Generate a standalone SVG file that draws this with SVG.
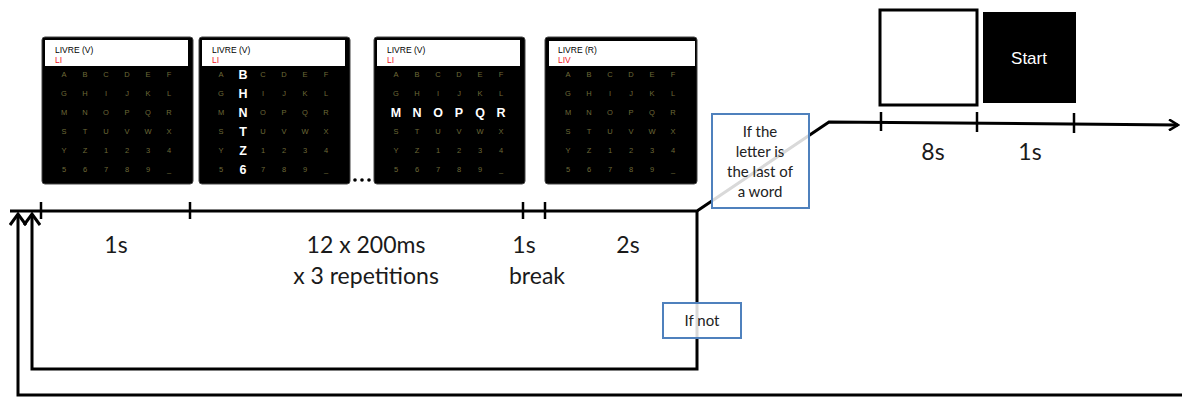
<svg xmlns="http://www.w3.org/2000/svg" width="1182" height="398" viewBox="0 0 1182 398">
<style>
.panel{fill:#000;stroke:#444;stroke-width:1}
.hdr{fill:#fff}
.ht{font-family:"Liberation Sans",Arial,sans-serif;font-size:8.5px;fill:#000}
.hr{font-family:"Liberation Sans",Arial,sans-serif;font-size:8.5px;fill:#f0141e}
.g{font-family:"Liberation Sans",Arial,sans-serif;font-size:7.5px;fill:#6e6a38;text-anchor:middle}
.hi{font-family:"Liberation Sans",Arial,sans-serif;font-size:12.5px;font-weight:bold;fill:#fff;text-anchor:middle}
.lbl{font-family:Lato,"Open Sans",sans-serif;font-size:23px;fill:#1a1a1a;text-anchor:middle}
.note{font-family:Lato,"Open Sans",sans-serif;font-size:15px;fill:#222;text-anchor:middle}
.nbox{fill:#fff;fill-opacity:0.85;stroke:#4f81bd;stroke-width:2}
.ln{fill:none;stroke:#000;stroke-width:3}
.tk{stroke:#000;stroke-width:2.5}
</style>
<defs>
<marker id="arr" markerWidth="12" markerHeight="12" refX="10" refY="6" orient="auto" markerUnits="userSpaceOnUse">
<path d="M1,0.5 L10,6 L1,11.5" fill="none" stroke="#000" stroke-width="2.5"/>
</marker>
<marker id="arrU" markerWidth="18" markerHeight="18" refX="13" refY="9" orient="auto" markerUnits="userSpaceOnUse">
<path d="M2,1 L13,9 L2,17" fill="none" stroke="#000" stroke-width="3"/>
</marker>
</defs>

<g id="panel1" transform="translate(42,37)">
<rect class="panel" x="0" y="0" width="151" height="147" rx="3"/>
<rect class="hdr" x="3" y="3" width="143" height="26"/>
<text class="ht" x="13" y="15.5">LIVRE (V)</text>
<text class="hr" x="13" y="26">LI</text>
<text class="g" x="22" y="39.5">A</text><text class="g" x="43" y="39.5">B</text><text class="g" x="64" y="39.5">C</text><text class="g" x="85" y="39.5">D</text><text class="g" x="106" y="39.5">E</text><text class="g" x="127" y="39.5">F</text>
<text class="g" x="22" y="58.5">G</text><text class="g" x="43" y="58.5">H</text><text class="g" x="64" y="58.5">I</text><text class="g" x="85" y="58.5">J</text><text class="g" x="106" y="58.5">K</text><text class="g" x="127" y="58.5">L</text>
<text class="g" x="22" y="77.5">M</text><text class="g" x="43" y="77.5">N</text><text class="g" x="64" y="77.5">O</text><text class="g" x="85" y="77.5">P</text><text class="g" x="106" y="77.5">Q</text><text class="g" x="127" y="77.5">R</text>
<text class="g" x="22" y="96.5">S</text><text class="g" x="43" y="96.5">T</text><text class="g" x="64" y="96.5">U</text><text class="g" x="85" y="96.5">V</text><text class="g" x="106" y="96.5">W</text><text class="g" x="127" y="96.5">X</text>
<text class="g" x="22" y="115.5">Y</text><text class="g" x="43" y="115.5">Z</text><text class="g" x="64" y="115.5">1</text><text class="g" x="85" y="115.5">2</text><text class="g" x="106" y="115.5">3</text><text class="g" x="127" y="115.5">4</text>
<text class="g" x="22" y="134.5">5</text><text class="g" x="43" y="134.5">6</text><text class="g" x="64" y="134.5">7</text><text class="g" x="85" y="134.5">8</text><text class="g" x="106" y="134.5">9</text><text class="g" x="127" y="134.5">_</text>
</g>

<g id="panel2" transform="translate(199,37)">
<rect class="panel" x="0" y="0" width="151" height="147" rx="3"/>
<rect class="hdr" x="3" y="3" width="143" height="26"/>
<text class="ht" x="13" y="15.5">LIVRE (V)</text>
<text class="hr" x="13" y="26">LI</text>
<text class="g" x="22" y="39.5">A</text><text class="hi" x="44" y="42">B</text><text class="g" x="64" y="39.5">C</text><text class="g" x="85" y="39.5">D</text><text class="g" x="106" y="39.5">E</text><text class="g" x="127" y="39.5">F</text>
<text class="g" x="22" y="58.5">G</text><text class="hi" x="44" y="61">H</text><text class="g" x="64" y="58.5">I</text><text class="g" x="85" y="58.5">J</text><text class="g" x="106" y="58.5">K</text><text class="g" x="127" y="58.5">L</text>
<text class="g" x="22" y="77.5">M</text><text class="hi" x="44" y="80">N</text><text class="g" x="64" y="77.5">O</text><text class="g" x="85" y="77.5">P</text><text class="g" x="106" y="77.5">Q</text><text class="g" x="127" y="77.5">R</text>
<text class="g" x="22" y="96.5">S</text><text class="hi" x="44" y="99">T</text><text class="g" x="64" y="96.5">U</text><text class="g" x="85" y="96.5">V</text><text class="g" x="106" y="96.5">W</text><text class="g" x="127" y="96.5">X</text>
<text class="g" x="22" y="115.5">Y</text><text class="hi" x="44" y="118">Z</text><text class="g" x="64" y="115.5">1</text><text class="g" x="85" y="115.5">2</text><text class="g" x="106" y="115.5">3</text><text class="g" x="127" y="115.5">4</text>
<text class="g" x="22" y="134.5">5</text><text class="hi" x="44" y="137">6</text><text class="g" x="64" y="134.5">7</text><text class="g" x="85" y="134.5">8</text><text class="g" x="106" y="134.5">9</text><text class="g" x="127" y="134.5">_</text>
</g>

<g id="ellipsis">
<circle cx="355" cy="180" r="1.8" fill="#000"/><circle cx="362" cy="180" r="1.8" fill="#000"/><circle cx="369" cy="180" r="1.8" fill="#000"/>
</g>

<g id="panel3" transform="translate(374,37)">
<rect class="panel" x="0" y="0" width="151" height="147" rx="3"/>
<rect class="hdr" x="3" y="3" width="143" height="26"/>
<text class="ht" x="13" y="15.5">LIVRE (V)</text>
<text class="hr" x="13" y="26">LI</text>
<text class="g" x="22" y="39.5">A</text><text class="g" x="43" y="39.5">B</text><text class="g" x="64" y="39.5">C</text><text class="g" x="85" y="39.5">D</text><text class="g" x="106" y="39.5">E</text><text class="g" x="127" y="39.5">F</text>
<text class="g" x="22" y="58.5">G</text><text class="g" x="43" y="58.5">H</text><text class="g" x="64" y="58.5">I</text><text class="g" x="85" y="58.5">J</text><text class="g" x="106" y="58.5">K</text><text class="g" x="127" y="58.5">L</text>
<text class="hi" x="22" y="80">M</text><text class="hi" x="43" y="80">N</text><text class="hi" x="64" y="80">O</text><text class="hi" x="85" y="80">P</text><text class="hi" x="106" y="80">Q</text><text class="hi" x="127" y="80">R</text>
<text class="g" x="22" y="96.5">S</text><text class="g" x="43" y="96.5">T</text><text class="g" x="64" y="96.5">U</text><text class="g" x="85" y="96.5">V</text><text class="g" x="106" y="96.5">W</text><text class="g" x="127" y="96.5">X</text>
<text class="g" x="22" y="115.5">Y</text><text class="g" x="43" y="115.5">Z</text><text class="g" x="64" y="115.5">1</text><text class="g" x="85" y="115.5">2</text><text class="g" x="106" y="115.5">3</text><text class="g" x="127" y="115.5">4</text>
<text class="g" x="22" y="134.5">5</text><text class="g" x="43" y="134.5">6</text><text class="g" x="64" y="134.5">7</text><text class="g" x="85" y="134.5">8</text><text class="g" x="106" y="134.5">9</text><text class="g" x="127" y="134.5">_</text>
</g>

<g id="panel4" transform="translate(545,37)">
<rect class="panel" x="0" y="0" width="152" height="147" rx="3"/>
<rect class="hdr" x="4" y="4" width="146" height="25"/>
<text class="ht" x="13" y="15.5">LIVRE (R)</text>
<text class="hr" x="13" y="26">LIV</text>
<text class="g" x="23" y="39.5">A</text><text class="g" x="44" y="39.5">B</text><text class="g" x="65" y="39.5">C</text><text class="g" x="86" y="39.5">D</text><text class="g" x="107" y="39.5">E</text><text class="g" x="128" y="39.5">F</text>
<text class="g" x="23" y="58.5">G</text><text class="g" x="44" y="58.5">H</text><text class="g" x="65" y="58.5">I</text><text class="g" x="86" y="58.5">J</text><text class="g" x="107" y="58.5">K</text><text class="g" x="128" y="58.5">L</text>
<text class="g" x="23" y="77.5">M</text><text class="g" x="44" y="77.5">N</text><text class="g" x="65" y="77.5">O</text><text class="g" x="86" y="77.5">P</text><text class="g" x="107" y="77.5">Q</text><text class="g" x="128" y="77.5">R</text>
<text class="g" x="23" y="96.5">S</text><text class="g" x="44" y="96.5">T</text><text class="g" x="65" y="96.5">U</text><text class="g" x="86" y="96.5">V</text><text class="g" x="107" y="96.5">W</text><text class="g" x="128" y="96.5">X</text>
<text class="g" x="23" y="115.5">Y</text><text class="g" x="44" y="115.5">Z</text><text class="g" x="65" y="115.5">1</text><text class="g" x="86" y="115.5">2</text><text class="g" x="107" y="115.5">3</text><text class="g" x="128" y="115.5">4</text>
<text class="g" x="23" y="134.5">5</text><text class="g" x="44" y="134.5">6</text><text class="g" x="65" y="134.5">7</text><text class="g" x="86" y="134.5">8</text><text class="g" x="107" y="134.5">9</text><text class="g" x="128" y="134.5">_</text>
</g>

<g id="blank-screen">
<rect x="880" y="10" width="97" height="95" fill="#fff" stroke="#000" stroke-width="3"/>
</g>
<g id="start-screen">
<rect x="983" y="12" width="93" height="91" fill="#000"/>
<text x="1029" y="64" font-family="'Liberation Sans',Arial,sans-serif" font-size="17" fill="#fff" text-anchor="middle">Start</text>
</g>

<g id="connectors">
<path class="ln" d="M10,211 L697,211 L829,122 L1178,125" marker-end="url(#arr)"/>
<path class="ln" d="M697,211 L697,369 L32,369 L32,214" marker-end="url(#arrU)"/>
<path class="ln" d="M1182,395 L18,395 L18,214" marker-end="url(#arrU)"/>
<line class="tk" x1="41" y1="202" x2="41" y2="219"/>
<line class="tk" x1="190" y1="202" x2="190" y2="219"/>
<line class="tk" x1="523" y1="202" x2="523" y2="219"/>
<line class="tk" x1="545" y1="202" x2="545" y2="219"/>
<line class="tk" x1="881" y1="112" x2="881" y2="131"/>
<line class="tk" x1="977" y1="112" x2="977" y2="132"/>
<line class="tk" x1="1074" y1="113" x2="1074" y2="133"/>
</g>

<g id="labels">
<text class="lbl" x="116" y="253">1s</text>
<text class="lbl" x="366" y="253">12 x 200ms</text>
<text class="lbl" x="366" y="284">x 3 repetitions</text>
<text class="lbl" x="524" y="253">1s</text>
<text class="lbl" x="537" y="284">break</text>
<text class="lbl" x="628" y="253">2s</text>
<text class="lbl" x="933" y="160">8s</text>
<text class="lbl" x="1030" y="160">1s</text>
</g>

<g id="cond-last">
<rect class="nbox" x="712" y="114" width="97" height="94"/>
<text class="note" x="760" y="137">If the</text>
<text class="note" x="760" y="157">letter is</text>
<text class="note" x="760" y="177">the last of</text>
<text class="note" x="760" y="197">a word</text>
</g>
<g id="cond-not">
<rect class="nbox" x="663" y="303" width="78" height="35"/>
<text class="note" x="702" y="326">If not</text>
</g>
</svg>
